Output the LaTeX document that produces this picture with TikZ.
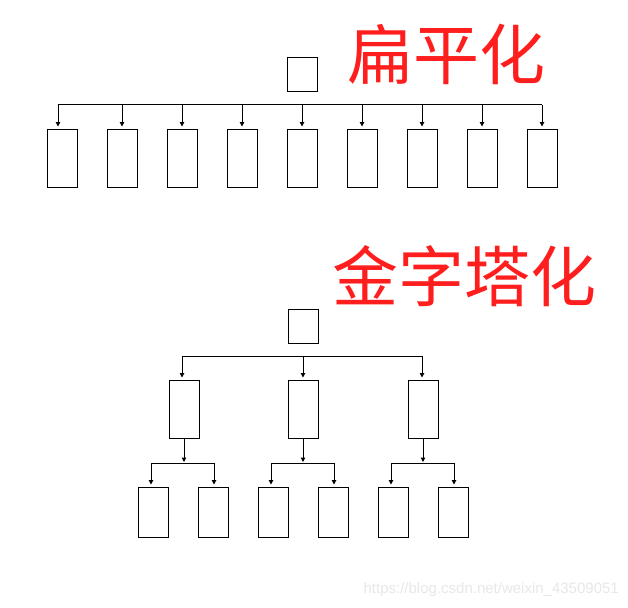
\documentclass[tikz,border=0pt]{standalone}
\usepackage{fontspec}
\newfontfamily\cjkfont{Noto Sans CJK SC}
\newfontfamily\wmfont{Liberation Sans}
\usetikzlibrary{arrows.meta}
\definecolor{titlered}{RGB}{255,30,30}
\definecolor{wmgray}{RGB}{232,232,232}
\tikzset{
  box/.style={draw=black,line width=1pt,inner sep=0pt,minimum width=30pt},
  tallbox/.style={box,minimum height=58pt},
  shortbox/.style={box,minimum height=50pt},
  rootbox/.style={box,minimum height=34pt},
  bus/.style={draw=black,line width=1pt},
  feed/.style={draw=black,line width=1pt,-{Triangle[width=4.5pt,length=4.5pt]},shorten >=2pt},
  title/.style={text=titlered,font=\cjkfont\fontsize{66}{66}\selectfont,inner sep=0pt},
}
\begin{document}
\begin{tikzpicture}[x=1pt,y=-1pt]
\useasboundingbox (0,0) rectangle (628,607);
\fill[white] (0,0) rectangle (628,607);

% ---------- flat ----------
\node[title] (t1) at (446,54) {扁平化};
\node[rootbox] (r1) at (302,75) {};
\foreach \i in {1,...,9}{
  \node[tallbox] (f\i) at ({2+60*\i},158) {};
}
\coordinate (b1l) at (58,105);
\coordinate (b1r) at (f9.north |- b1l);
\draw[bus] (b1l) -- (b1r);
\draw[feed] (b1l) -- ([xshift=-4pt]f1.north);
\foreach \i in {2,...,9}{
  \draw[feed] (f\i.north |- b1l) -- (f\i.north);
}

% ---------- pyramid ----------
\node[title] (t2) at (464,276) {金字塔化};
\node[rootbox] (r2) at (303,326) {};
\node[tallbox] (m1) at (184,409) {};
\node[tallbox] (m2) at (303,409) {};
\node[tallbox] (m3) at (423,409) {};
\coordinate (b2l) at (182,356);
\coordinate (b2r) at (422,356);
\draw[bus] (b2l) -- (b2r);
\draw[feed] (b2l) -- ([xshift=-2pt]m1.north);
\draw[feed] (m2.north |- b2l) -- (m2.north);
\draw[feed] (b2r) -- ([xshift=-1pt]m3.north);

\foreach \j/\a/\b in {1/153/213,2/273/333,3/393/453}{
  \node[shortbox] (l\j a) at (\a,512) {};
  \node[shortbox] (l\j b) at (\b,512) {};
  \coordinate (s\j l) at (\a-2,463);
  \coordinate (s\j r) at (\b+1,463);
  \draw[bus] (s\j l) -- (s\j r);
  \draw[feed,shorten >=1pt] (m\j.south) -- (m\j.south |- s\j l);
  \draw[feed] (s\j l) -- ([xshift=-2pt]l\j a.north);
  \draw[feed] (s\j r) -- ([xshift=1pt]l\j b.north);
}

% ---------- watermark ----------
\node[text=wmgray,font=\wmfont\fontsize{15}{15}\selectfont,anchor=east,inner sep=0pt] (wm) at (619,590) {https://blog.csdn.net/weixin\_43509051};
\end{tikzpicture}
\end{document}
